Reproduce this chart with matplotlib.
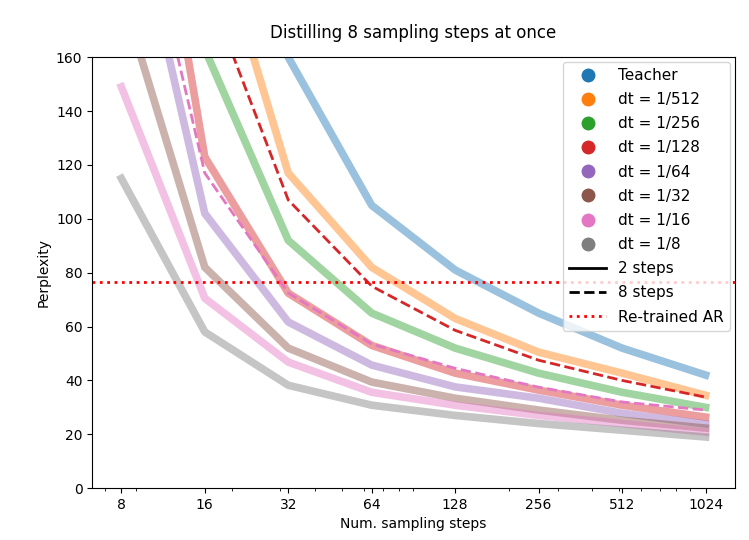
import matplotlib
matplotlib.use('Agg')
import matplotlib.pyplot as plt
from matplotlib.lines import Line2D

# sampling steps on the x axis
steps = [8, 16, 32, 64, 128, 256, 512, 1024]

# perplexity (values above 160 are off the chart)
teacher = [420, 300, 160, 105, 81, 65, 52, 42]
dt_512 = [330, 220, 117, 82, 63, 50.5, 42.7, 34.5]
dt_256 = [260, 163, 92, 65, 52, 42.7, 35.6, 30]
dt_128 = [306, 123, 72.4, 53, 42.7, 36.4, 30.8, 26.4]
dt_64 = [237, 102, 61.7, 45.7, 37.6, 33.4, 27.8, 23.8]
dt_32 = [184, 82, 52, 39.4, 33.4, 29, 25.2, 22.3]
dt_16 = [149, 70.5, 46.8, 35.6, 30.8, 27, 24, 20.8]
dt_8 = [115, 58, 38.2, 30.8, 27, 24, 21.5, 19]

# 8 distillation steps at once
dt_128_8 = [290, 188, 107, 75, 58.6, 47.5, 40, 33.8]
dt_16_8 = [250, 117, 72.5, 53.5, 44.5, 37.5, 32, 29]

retrained_ar = 76.5

names = ['Teacher', 'dt = 1/512', 'dt = 1/256', 'dt = 1/128',
         'dt = 1/64', 'dt = 1/32', 'dt = 1/16', 'dt = 1/8']
series = [teacher, dt_512, dt_256, dt_128, dt_64, dt_32, dt_16, dt_8]
colors = ['tab:blue', 'tab:orange', 'tab:green', 'tab:red',
          'tab:purple', 'tab:brown', 'tab:pink', 'tab:gray']

fig, ax = plt.subplots(figsize=(7.49, 5.4), dpi=100)
fig.subplots_adjust(left=0.123, right=0.981, top=0.894, bottom=0.096)

for vals, c in zip(series, colors):
    ax.plot(steps, vals, color=c, lw=5.5, alpha=0.45)

ax.plot(steps, dt_128_8, color='tab:red', lw=2, ls='--')
ax.plot(steps, dt_16_8, color='tab:pink', lw=2, ls='--')
ax.axhline(retrained_ar, color='red', lw=2, ls=':')

ax.set_xscale('log')
ax.set_xticks(steps, [str(s) for s in steps])
ax.set_ylim(0, 160)
ax.set_xlabel('Num. sampling steps')
ax.set_ylabel('Perplexity')
ax.set_title('Distilling 8 sampling steps at once', pad=14)

handles = [Line2D([], [], marker='o', ls='none', color=c, markersize=9) for c in colors]
handles += [Line2D([], [], color='black', ls='-', lw=2),
            Line2D([], [], color='black', ls='--', lw=2),
            Line2D([], [], color='red', ls=':', lw=2)]
labels = names + ['2 steps', '8 steps', 'Re-trained AR']
ax.legend(handles, labels, loc='upper right', fontsize=11,
          labelspacing=0.6, handlelength=2.4, borderaxespad=0.3)

fig.savefig('out.png')
